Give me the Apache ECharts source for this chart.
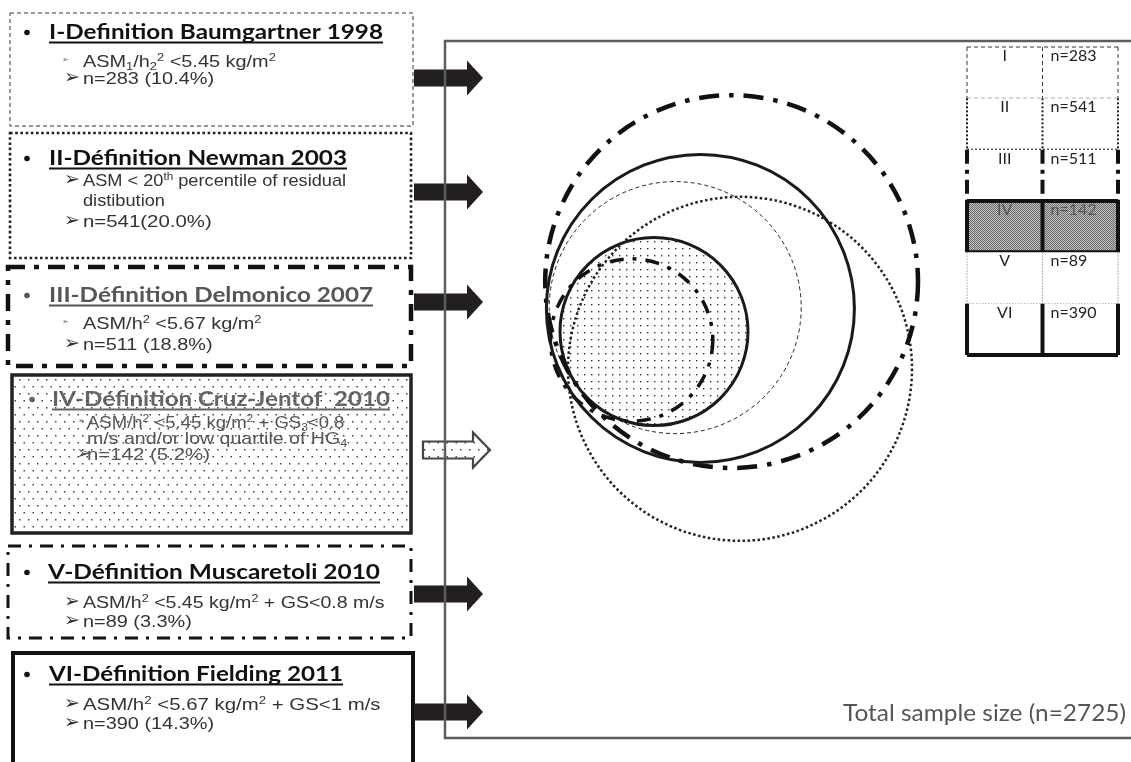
<!DOCTYPE html>
<html><head><meta charset="utf-8">
<script src="https://cdn.jsdelivr.net/npm/echarts@6.0.0/dist/echarts.min.js"></script>
<style>html,body{margin:0;padding:0;background:#fff;}#chart{width:1131px;height:762px;}</style>
</head><body><div id="chart"></div>
<script>
// ---------------- data ----------------
const defIds = ['I', 'II', 'III', 'IV', 'V', 'VI'];
const defTitles = ['I-Definition Baumgartner 1998', 'II-Définition Newman 2003', 'III-Définition Delmonico 2007',
  'IV-Définition Cruz-Jentof  2010', 'V-Définition Muscaretoli 2010', 'VI-Définition Fielding 2011'];
const defCriteria = [
  ['ASM{sub|1}/h{sub|2}{sup|2} <5.45 kg/m{sup|2}'],
  ['ASM < 20{sup|th} percentile of residual', 'distibution'],
  ['ASM/h{sup|2} <5.67 kg/m{sup|2}'],
  ['ASM/h{sup|2} <5.45 kg/m{sup|2} + GS{sub|3}<0.8', 'm/s and/or low quartile of HG{sub|4}'],
  ['ASM/h{sup|2} <5.45 kg/m{sup|2} + GS<0.8 m/s'],
  ['ASM/h{sup|2} <5.67 kg/m{sup|2} + GS<1 m/s']
];
const defCounts = [283, 541, 511, 142, 89, 390];
const defCountLabels = ['n=283 (10.4%)', 'n=541(20.0%)', 'n=511 (18.8%)', 'n=142 (5.2%)', 'n=89 (3.3%)', 'n=390 (14.3%)'];
const totalLabel = 'Total sample size (n=2725)';
// circle centre x / centre y / radius, in diagram units
const circleX = [38.8, 55.0, 52.9, 33.5, 27.9, 45.1];
const circleY = [63.1, 47.8, 69.6, 57.1, 55.0, 62.9];
const circleR = [31.5, 43.0, 46.6, 23.5, 20.3, 38.5];
const circleDrawOrder = [3, 0, 1, 2, 4, 5];

// ---------------- styles / layout ----------------
function pattern(w, h, dots, color, size, bg) {
  const c = document.createElement('canvas'); c.width = w; c.height = h;
  const x = c.getContext('2d');
  if (bg) { x.fillStyle = bg; x.fillRect(0, 0, w, h); }
  x.fillStyle = color;
  dots.forEach(d => x.fillRect(d[0], d[1], size, size));
  return { image: c, repeat: 'repeat' };
}
const circleDots = pattern(7, 7, [[3, 3]], '#333', 1.4, null);
const boxDots = pattern(9, 14, [[1, 1], [5.5, 8]], '#444', 1.5, null);
const grayHatch = pattern(2, 2, [[0, 0], [1, 1]], '#6a6a6a', 1, '#c4c4c4');

const circleStyles = [
  { lineWidth: 1, lineDash: [4, 3], stroke: '#222' },
  { lineWidth: 2.5, lineDash: [2.5, 2.5], stroke: '#222' },
  { lineWidth: 4.5, lineDash: [20, 10, 4.5, 10], stroke: '#111' },
  { lineWidth: 3, lineDash: null, stroke: '#1a1a1a' },
  { lineWidth: 3.5, lineDash: [14, 9, 4, 9], stroke: '#111' },
  { lineWidth: 3, lineDash: null, stroke: '#1a1a1a' }
];
const boxStyles = [
  { lineWidth: 1, lineDash: [4, 3], stroke: '#333' },
  { lineWidth: 2.6, lineDash: [2.6, 2.6], stroke: '#222' },
  { lineWidth: 4.5, lineDash: [17, 9, 5, 9], stroke: '#111' },
  { lineWidth: 3.5, lineDash: null, stroke: '#222' },
  { lineWidth: 3, lineDash: [13, 8, 3, 8], stroke: '#111' },
  { lineWidth: 4, lineDash: null, stroke: '#111' }
];
const tableStyles = [
  { v: { lineWidth: 1, lineDash: [4, 3], stroke: '#333' }, top: true, bottom: true },
  { v: { lineWidth: 2, lineDash: [2, 2], stroke: '#222' }, top: false, bottom: true },
  { v: { lineWidth: 4, lineDash: [14, 6, 4, 6], stroke: '#111' }, top: false, bottom: false },
  { v: { lineWidth: 4, lineDash: null, stroke: '#111' }, top: true, bottom: true, fill: grayHatch, text: '#555' },
  { v: { lineWidth: 1, lineDash: [1.5, 1.5], stroke: '#999' }, top: false, bottom: true },
  { v: { lineWidth: 4, lineDash: null, stroke: '#111' }, top: false, bottom: true }
];
const boxLayout = [
  { x: 10, y: 13, w: 403, h: 113, bx: 27, tx: 49, tb: 39, tw: 334, lx: 83, ax: 64, sx: 62, lb: [65, 82], st: [1.17, 1.17], small: true, tc: '#111', lc: '#333' },
  { x: 10, y: 133, w: 401, h: 125, bx: 27, tx: 49, tb: 165, tw: 298, lx: 83, ax: 64, sx: 62, lb: [184, 204, 225], st: [1.07, 1.07, 1.2], small: false, tc: '#111', lc: '#333' },
  { x: 8, y: 267, w: 403, h: 99, bx: 27, tx: 49, tb: 302, tw: 324, lx: 83, ax: 64, sx: 62, lb: [327, 348], st: [1.17, 1.17], small: true, tc: '#555', lc: '#333' },
  { x: 12, y: 375, w: 399, h: 158, bx: 32, tx: 52, tb: 406, tw: 338, lx: 87, ax: 76, sx: 78, lb: [426, 442, 458], st: [1.09, 1.15, 1.2], small: true, tc: '#666', lc: '#555', dots: true },
  { x: 8, y: 546, w: 403, h: 92, bx: 27, tx: 48, tb: 579, tw: 332, lx: 83, ax: 64, sx: 62, lb: [606, 625], st: [1.15, 1.17], small: false, tc: '#111', lc: '#333' },
  { x: 13, y: 653, w: 400, h: 130, bx: 27, tx: 49, tb: 681, tw: 294, lx: 83, ax: 64, sx: 62, lb: [708, 727], st: [1.2, 1.17], small: false, tc: '#111', lc: '#333' }
];
const arrowTipY = [78, 192, 302, 450, 594, 712];

const mctx = document.createElement('canvas').getContext('2d');
function textW(t, font) { mctx.font = font; return mctx.measureText(t).width; }
const TITLE_FAMILY = 'Lato';
const BODY_FAMILY = 'Liberation Sans';
const BODY_SIZE = 17, TITLE_SIZE = 20;

const richStyles = {
  sup: { fontSize: 11, lineHeight: 10, verticalAlign: 'top', fontFamily: BODY_FAMILY },
  sub: { fontSize: 11, lineHeight: 10, verticalAlign: 'bottom', fontFamily: BODY_FAMILY }
};

// ---------------- graphic elements ----------------
const elements = [];
defTitles.forEach((title, i) => {
  const L = boxLayout[i], S = boxStyles[i];
  elements.push({ type: 'rect', z: 1, shape: { x: L.x, y: L.y, width: L.w, height: L.h }, style: { fill: '#fff' }, silent: true });
  const tsx = L.tw / textW(title, 'bold ' + TITLE_SIZE + 'px ' + TITLE_FAMILY);
  elements.push({ type: 'circle', z: 2, shape: { cx: L.bx, cy: L.tb - 6.5, r: 2.8 }, style: { fill: L.tc } });
  elements.push({ type: 'text', z: 2, x: L.tx, y: L.tb - 0.32 * TITLE_SIZE, scaleX: tsx, style: { text: title, fill: L.tc, fontSize: TITLE_SIZE, fontWeight: 'bold', fontFamily: TITLE_FAMILY, align: 'left', verticalAlign: 'middle' } });
  elements.push({ type: 'line', z: 2, shape: { x1: L.tx, y1: L.tb + 3.5, x2: L.tx + L.tw, y2: L.tb + 3.5 }, style: { stroke: L.tc, lineWidth: 1.8 } });
  const lines = defCriteria[i].concat([defCountLabels[i]]);
  lines.forEach((ln, k) => {
    const base = L.lb[k];
    const isFirst = k === 0, isLast = k === lines.length - 1;
    if (isFirst || isLast) {
      const small = isFirst && L.small;
      elements.push({ type: 'text', z: 2, x: small ? L.sx : L.ax, y: base - (small ? 5 : 4), style: { text: '➢', fill: small ? '#666' : L.lc, fontSize: small ? 8 : 19, fontFamily: 'DejaVu Sans', align: 'left', verticalAlign: 'middle' } });
    }
    elements.push({ type: 'text', z: 2, x: L.lx, y: base - 3, scaleX: L.st[k], style: { text: ln, fill: L.lc, fontSize: BODY_SIZE, fontFamily: BODY_FAMILY, lineHeight: 20, align: 'left', verticalAlign: 'middle', rich: richStyles } });
  });
  if (L.dots) {
    elements.push({ type: 'rect', z: 3, shape: { x: L.x, y: L.y, width: L.w, height: L.h }, style: { fill: boxDots }, silent: true });
  }
  elements.push({ type: 'rect', z: 4, shape: { x: L.x, y: L.y, width: L.w, height: L.h }, style: { fill: 'none', stroke: S.stroke, lineWidth: S.lineWidth, lineDash: S.lineDash, lineCap: 'butt' }, silent: true });
});
arrowTipY.forEach((ty, i) => {
  const hollow = i === 3;
  const x0 = hollow ? 423 : 414, xh = hollow ? 473 : 467, xt = hollow ? 490 : 483;
  const bh = 8.5, hh = 17.5;
  elements.push({ type: 'polygon', z: 5, shape: { points: [[x0, ty - bh], [xh, ty - bh], [xh, ty - hh], [xt, ty], [xh, ty + hh], [xh, ty + bh], [x0, ty + bh]] },
    style: hollow ? { fill: boxDots, stroke: '#444', lineWidth: 2.2 } : { fill: '#231f20' } });
});
elements.push({ type: 'rect', z: 6, shape: { x: 445, y: 41, width: 720, height: 697 }, style: { fill: 'none', stroke: '#5e5e5e', lineWidth: 2.5 }, silent: true });
const TOTAL_SIZE = 23;
const tsxTotal = 283 / textW(totalLabel, TOTAL_SIZE + 'px ' + TITLE_FAMILY);
elements.push({ type: 'text', z: 6, x: 1126, y: 721 - 0.32 * TOTAL_SIZE, scaleX: tsxTotal, style: { text: totalLabel, fill: '#555', fontSize: TOTAL_SIZE, fontFamily: TITLE_FAMILY, align: 'right', verticalAlign: 'middle' } });

// ---------------- series renderers ----------------
function renderCircle(params, api) {
  const i = api.value(3);
  const c = api.coord([api.value(0), api.value(1)]);
  const r = api.size([api.value(2), 0])[0];
  const s = circleStyles[i];
  return { type: 'circle', shape: { cx: c[0], cy: c[1], r: r },
    style: { fill: i === 3 ? circleDots : 'none', stroke: s.stroke, lineWidth: s.lineWidth, lineDash: s.lineDash, lineCap: 'butt' } };
}
function renderRow(params, api) {
  const i = api.value(0);
  const tl = api.coord([0, i]), br = api.coord([2, i + 1]), md = api.coord([1, i]);
  const x0 = tl[0], y0 = tl[1], x1 = br[0], y1 = br[1], xm = md[0];
  const st = tableStyles[i];
  const ls = { stroke: st.v.stroke, lineWidth: st.v.lineWidth, lineDash: st.v.lineDash, fill: 'none' };
  const ch = [];
  ch.push({ type: 'rect', shape: { x: x0, y: y0, width: x1 - x0, height: y1 - y0 }, style: { fill: st.fill || '#fff' } });
  const ln = (a, b, c, d) => ({ type: 'line', shape: { x1: a, y1: b, x2: c, y2: d }, style: ls });
  ch.push(ln(x0, y0, x0, y1), ln(xm, y0, xm, y1), ln(x1, y0, x1, y1));
  if (st.top) ch.push(ln(x0, y0, x1, y0));
  if (st.bottom) ch.push(ln(x0, y1, x1, y1));
  const tc = st.text || '#222';
  ch.push({ type: 'text', style: { text: defIds[i], x: (x0 + xm) / 2, y: y0 + 9, fill: tc, fontSize: 16, fontFamily: TITLE_FAMILY, align: 'center', verticalAlign: 'middle' } });
  ch.push({ type: 'text', style: { text: 'n=' + defCounts[i], x: xm + 8, y: y0 + 9, fill: tc, fontSize: 16, fontFamily: TITLE_FAMILY, align: 'left', verticalAlign: 'middle' } });
  return { type: 'group', children: ch };
}

const chart = echarts.init(document.getElementById('chart'));
chart.setOption({
  animation: false,
  backgroundColor: '#fff',
  grid: [
    { left: 520, top: 80, width: 440, height: 480, show: false },
    { left: 967, top: 47, width: 151, height: 308, show: false }
  ],
  xAxis: [
    { type: 'value', gridIndex: 0, min: 0, max: 110, show: false },
    { type: 'value', gridIndex: 1, min: 0, max: 2, show: false }
  ],
  yAxis: [
    { type: 'value', gridIndex: 0, min: 0, max: 120, show: false },
    { type: 'value', gridIndex: 1, min: 0, max: 6, inverse: true, show: false }
  ],
  series: [
    { type: 'custom', name: 'circles', xAxisIndex: 0, yAxisIndex: 0, silent: true, clip: false, z: 3,
      renderItem: renderCircle, data: circleDrawOrder.map(i => [circleX[i], circleY[i], circleR[i], i]) },
    { type: 'custom', name: 'table', xAxisIndex: 1, yAxisIndex: 1, silent: true, clip: false, z: 3,
      renderItem: renderRow, data: defIds.map((d, i) => [i, i]) }
  ],
  graphic: { elements: elements }
});
</script>
</body></html>
